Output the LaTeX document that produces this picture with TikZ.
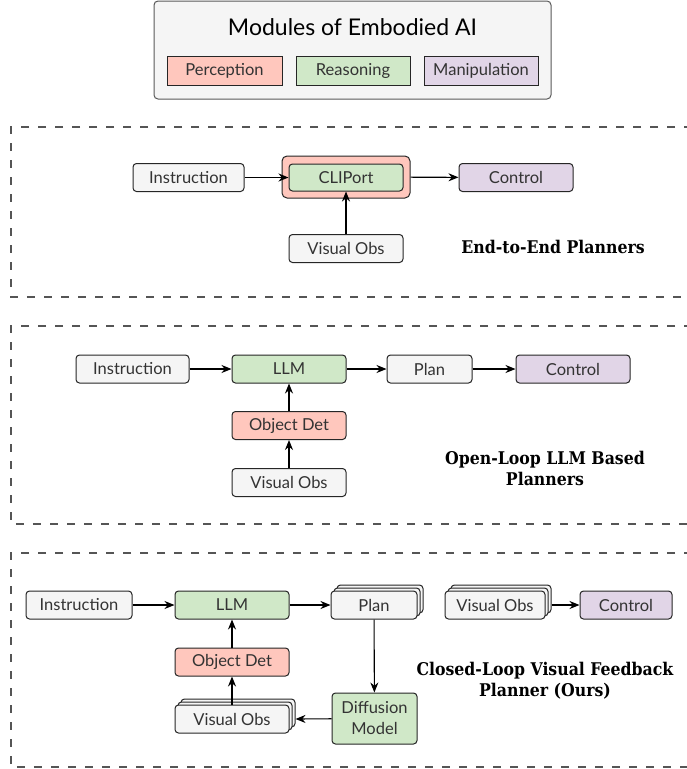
\documentclass[tikz,border=0pt]{standalone}
\usepackage{fontspec}
\setmainfont{Lato}
\newfontfamily\slabfont{DejaVu Serif Condensed}
\usetikzlibrary{arrows.meta,shadows}
\definecolor{neut}{HTML}{F5F5F5}
\definecolor{percol}{HTML}{FFC7BD}
\definecolor{reacol}{HTML}{D0E8C8}
\definecolor{mancol}{HTML}{E1D5E7}
\definecolor{txtcol}{HTML}{333333}
\definecolor{dashcol}{HTML}{555555}
\tikzset{
  box/.style={draw=black!85, line width=1pt, rounded corners=3.5pt, minimum height=28pt,
    inner sep=0pt, text=txtcol, font=\fontsize{16.5}{19}\selectfont, fill=neut},
  perc/.style={box, fill=percol},
  reas/.style={box, fill=reacol},
  mani/.style={box, fill=mancol},
  stk/.style={double copy shadow={shadow xshift=3pt, shadow yshift=3pt, draw=black!85, fill=neut}},
  conn/.style={-{Stealth[length=10pt,width=8pt]}, line width=1.1pt, black},
  sect/.style={draw=dashcol, line width=2pt, dash pattern=on 8pt off 9pt},
  lab/.style={font=\slabfont\bfseries\fontsize{17.5}{21}\selectfont, align=center, text=black}
}
\begin{document}
\begin{tikzpicture}[x=1pt,y=-1pt]
\useasboundingbox (0,0) rectangle (686,769);
% legend
\node[draw=black!65, line width=1pt, rounded corners=4pt, fill=neut, minimum width=397pt, minimum height=98pt] (legend) at (352.5,50) {};
\node[font=\fontsize{23}{26}\selectfont, text=black] (legtitle) at (352.5,27) {Modules of Embodied AI};
\node[perc, rounded corners=0pt, minimum width=115pt, minimum height=29pt] (lp) at (224.5,70.5) {Perception};
\node[reas, rounded corners=0pt, minimum width=114pt, minimum height=29pt] (lr) at (353,70.5) {Reasoning};
\node[mani, rounded corners=0pt, minimum width=114pt, minimum height=29pt] (lm) at (481,70.5) {Manipulation};

% section frames
\draw[sect] (692,127) -- (11,127) -- (11,297) -- (692,297);
\draw[sect] (692,326) -- (11,326) -- (11,524) -- (692,524);
\draw[sect] (692,553) -- (11,553) -- (11,767) -- (692,767);

% section 1
\node[box, minimum width=111pt] (i1) at (188.5,177.5) {Instruction};
\node[perc, minimum width=128pt, minimum height=42pt, rounded corners=5pt] (cliout) at (346,177) {};
\node[reas, minimum width=114pt, minimum height=27pt] (clip) at (346,177.5) {CLIPort};
\node[mani, minimum width=114pt] (c1) at (516,177.5) {Control};
\node[box, minimum width=114pt] (v1) at (346,248.5) {Visual Obs};
\draw[conn] (i1) -- (clip);
\draw[conn] (cliout) -- (c1);
\draw[conn] (v1) -- (clip);
\node[lab] (t1) at (553,247) {End-to-End Planners};

% section 2
\node[box, minimum width=113pt] (i2) at (132.5,369) {Instruction};
\node[reas, minimum width=114pt] (llm2) at (289,369) {LLM};
\node[box, minimum width=85pt] (p2) at (429.5,369) {Plan};
\node[mani, minimum width=114pt] (c2) at (573,369) {Control};
\node[perc, minimum width=114pt] (od2) at (289,425.5) {Object Det};
\node[box, minimum width=114pt] (v2) at (289,482.5) {Visual Obs};
\draw[conn] (i2) -- (llm2);
\draw[conn] (llm2) -- (p2);
\draw[conn] (p2) -- (c2);
\draw[conn] (od2) -- (llm2);
\draw[conn] (v2) -- (od2);
\node[lab] (t2) at (545,468.5) {Open-Loop LLM Based\\Planners};

% section 3
\node[box, minimum width=106pt] (i3) at (79,605) {Instruction};
\node[reas, minimum width=114pt] (llm3) at (232,605) {LLM};
\node[box, stk, minimum width=86pt] (p3) at (374,605) {Plan};
\node[box, stk, minimum width=100pt] (v3a) at (495,605) {Visual Obs};
\node[mani, minimum width=92pt] (c3) at (626,605) {Control};
\node[perc, minimum width=114pt] (od3) at (232,662) {Object Det};
\node[box, stk, minimum width=114pt] (v3) at (232,719) {Visual Obs};
\node[reas, minimum width=85pt, minimum height=51pt, align=center, font=\fontsize{16.5}{21}\selectfont] (dm) at (374.5,718.5) {Diffusion\\Model};
\draw[conn] (i3) -- (llm3);
\draw[conn] (llm3) -- (p3);
\draw[conn] (od3) -- (llm3);
\draw[conn] (v3) -- (od3);
\draw[conn] (p3) -- (dm);
\draw[conn] (dm) -- ([xshift=6pt]v3.east);
\draw[conn] ([xshift=6pt]v3a.east) -- (c3);
\node[lab] (t3) at (545,680.5) {Closed-Loop Visual Feedback\\Planner (Ours)};
\end{tikzpicture}
\end{document}
